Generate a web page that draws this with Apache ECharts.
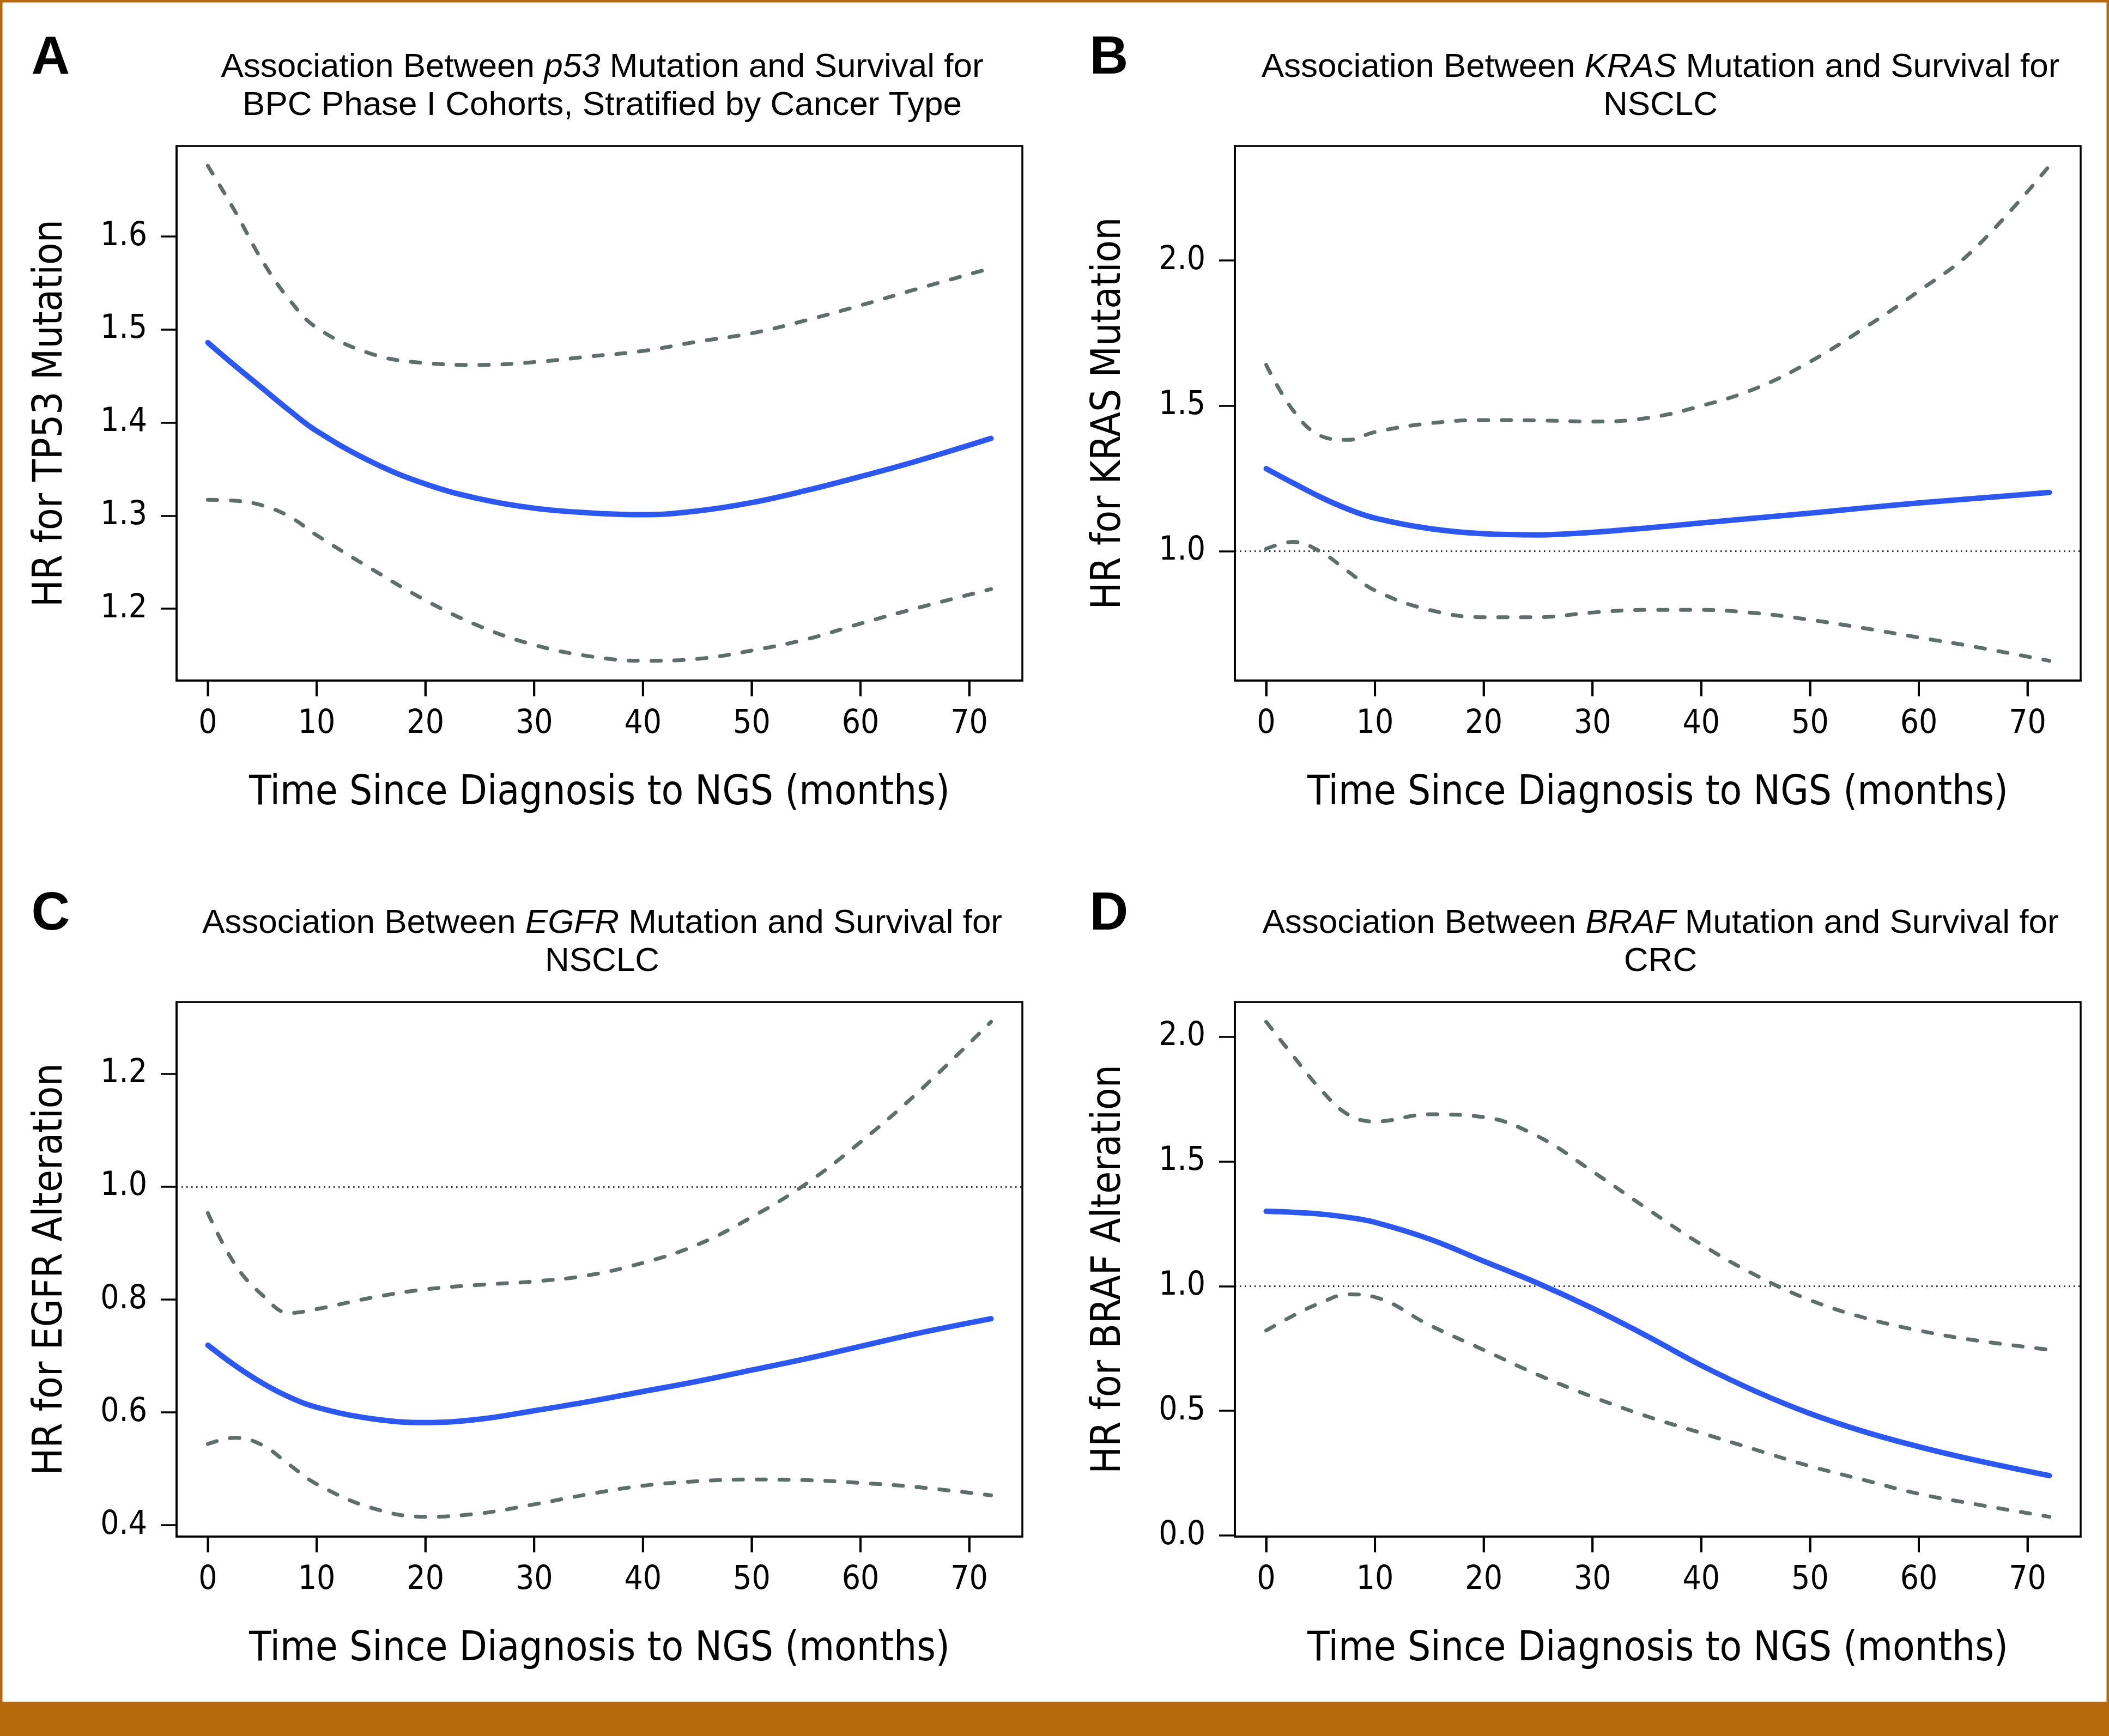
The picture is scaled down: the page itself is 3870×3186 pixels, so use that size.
<!DOCTYPE html>
<html>
<head>
<meta charset="utf-8">
<script src="https://cdn.jsdelivr.net/npm/echarts@6/dist/echarts.min.js"></script>
<style>
html,body{margin:0;padding:0;background:#fff;}
#chart{width:3870px;height:3186px;}
</style>
</head>
<body>
<div id="chart"></div>
<script>
// ---- data ----
const months = [0, 2.5, 5, 7.5, 10, 15, 20, 25, 30, 35, 40, 45, 50, 55, 60, 65, 72];
const xTicks = [0, 10, 20, 30, 40, 50, 60, 70];

const p53Mean  = [1.486, 1.461, 1.437, 1.413, 1.391, 1.358, 1.334, 1.318, 1.308, 1.303, 1.301, 1.305, 1.314, 1.327, 1.342, 1.358, 1.383];
const p53Upper = [1.676, 1.627, 1.574, 1.532, 1.502, 1.474, 1.464, 1.462, 1.465, 1.471, 1.477, 1.487, 1.496, 1.510, 1.526, 1.543, 1.566];
const p53Lower = [1.317, 1.316, 1.311, 1.299, 1.279, 1.243, 1.209, 1.181, 1.161, 1.149, 1.144, 1.146, 1.155, 1.167, 1.184, 1.200, 1.221];
const p53Ticks = [1.2, 1.3, 1.4, 1.5, 1.6];

const krasMean  = [1.284, 1.234, 1.186, 1.145, 1.114, 1.078, 1.060, 1.056, 1.065, 1.080, 1.097, 1.114, 1.131, 1.149, 1.166, 1.181, 1.202];
const krasUpper = [1.641, 1.483, 1.397, 1.383, 1.410, 1.440, 1.451, 1.450, 1.446, 1.458, 1.500, 1.560, 1.652, 1.768, 1.895, 2.036, 2.326];
const krasLower = [1.008, 1.032, 0.998, 0.931, 0.865, 0.798, 0.773, 0.773, 0.789, 0.798, 0.798, 0.787, 0.764, 0.735, 0.703, 0.672, 0.623];
const krasTicks = [1.0, 1.5, 2.0];

const egfrMean  = [0.719, 0.683, 0.652, 0.627, 0.609, 0.589, 0.582, 0.588, 0.603, 0.619, 0.637, 0.655, 0.675, 0.695, 0.717, 0.739, 0.766];
const egfrUpper = [0.953, 0.862, 0.808, 0.776, 0.783, 0.803, 0.818, 0.826, 0.832, 0.843, 0.865, 0.897, 0.946, 1.005, 1.079, 1.162, 1.292];
const egfrLower = [0.544, 0.555, 0.542, 0.507, 0.473, 0.431, 0.415, 0.421, 0.437, 0.455, 0.470, 0.478, 0.481, 0.480, 0.475, 0.468, 0.453];
const egfrTicks = [0.4, 0.6, 0.8, 1.0, 1.2];

const brafMean  = [1.300, 1.296, 1.289, 1.276, 1.256, 1.189, 1.100, 1.011, 0.911, 0.800, 0.682, 0.578, 0.489, 0.416, 0.356, 0.304, 0.240];
const brafUpper = [2.060, 1.922, 1.789, 1.689, 1.660, 1.689, 1.678, 1.600, 1.460, 1.311, 1.167, 1.044, 0.944, 0.873, 0.822, 0.784, 0.745];
const brafLower = [0.822, 0.882, 0.933, 0.967, 0.956, 0.844, 0.744, 0.644, 0.556, 0.478, 0.411, 0.344, 0.278, 0.222, 0.167, 0.127, 0.075];
const brafTicks = [0.0, 0.5, 1.0, 1.5, 2.0];

const panelLetters = ['A', 'B', 'C', 'D'];
const panelTitles = [
  'Association Between {i|p53} Mutation and Survival for\nBPC Phase I Cohorts, Stratified by Cancer Type',
  'Association Between {i|KRAS} Mutation and Survival for\nNSCLC',
  'Association Between {i|EGFR} Mutation and Survival for\nNSCLC',
  'Association Between {i|BRAF} Mutation and Survival for\nCRC'
];
const yTitles = ['HR for TP53 Mutation', 'HR for KRAS Mutation', 'HR for EGFR Alteration', 'HR for BRAF Alteration'];
const xTitle = 'Time Since Diagnosis to NGS (months)';

// ---- layout / style ----
const NARROW = "'DejaVu Sans Condensed', 'Liberation Sans Narrow', sans-serif";
const SANS = "'Liberation Sans', Arial, Helvetica, sans-serif";
const BLUE = '#2C58F0';
const GRAY = '#5F6E6C';
const ORANGE = '#B5690A';
const TICK_LEN = 29;

const boxes = [
  {left: 324, top: 268, width: 1552, height: 981},
  {left: 2266, top: 268, width: 1552, height: 981},
  {left: 324, top: 1839, width: 1552, height: 981},
  {left: 2266, top: 1839, width: 1552, height: 981}
];
const panels = [
  {mean: p53Mean, upper: p53Upper, lower: p53Lower, ticks: p53Ticks, ref: false},
  {mean: krasMean, upper: krasUpper, lower: krasLower, ticks: krasTicks, ref: true},
  {mean: egfrMean, upper: egfrUpper, lower: egfrLower, ticks: egfrTicks, ref: true},
  {mean: brafMean, upper: brafUpper, lower: brafLower, ticks: brafTicks, ref: true}
];

function rRange(vals) {
  const mn = Math.min.apply(null, vals), mx = Math.max.apply(null, vals);
  const e = (mx - mn) * 0.04;
  return [mn - e, mx + e];
}
const xr = rRange(months);
const axisLineStyle = {color: '#000', width: 3.5};

const grid = [], xAxis = [], yAxis = [], series = [], title = [], yMins = [];
panels.forEach((p, k) => {
  const b = boxes[k];
  grid.push({left: b.left, top: b.top, width: b.width, height: b.height, show: true,
    borderColor: '#000', borderWidth: 3.5, backgroundColor: 'transparent'});
  const yr = rRange(p.upper.concat(p.lower, p.mean));
  yMins.push(yr[0]);
  xAxis.push({type: 'value', gridIndex: k, min: xr[0], max: xr[1], position: 'bottom',
    axisLine: {show: true, onZero: false, lineStyle: axisLineStyle},
    axisTick: {show: true, inside: false, length: TICK_LEN, customValues: xTicks, lineStyle: axisLineStyle},
    axisLabel: {show: true, customValues: xTicks, margin: 50, fontSize: 60, fontFamily: NARROW, color: '#000'},
    splitLine: {show: false},
    name: xTitle, nameLocation: 'middle', nameGap: 171,
    nameTextStyle: {fontSize: 74, fontFamily: NARROW, color: '#000'}
  });
  yAxis.push({type: 'value', gridIndex: k, min: yr[0], max: yr[1], position: 'left',
    axisLine: {show: true, onZero: false, lineStyle: axisLineStyle},
    axisTick: {show: true, inside: false, length: TICK_LEN, customValues: p.ticks, lineStyle: axisLineStyle},
    axisLabel: {show: true, customValues: p.ticks, margin: 54, fontSize: 60, fontFamily: NARROW, color: '#000',
      formatter: v => Number(v).toFixed(1)},
    splitLine: {show: false},
    name: yTitles[k], nameLocation: 'middle', nameGap: 193,
    nameTextStyle: {fontSize: 74, fontFamily: NARROW, color: '#000'}
  });
  const mk = arr => months.map((m, i) => [m, arr[i]]);
  const dashed = {color: GRAY, width: 7, type: [17, 25], cap: 'round'};
  const lowerSeries = {type: 'line', xAxisIndex: k, yAxisIndex: k, data: mk(p.lower), showSymbol: false,
    smooth: 0.4, lineStyle: dashed, z: 3};
  if (p.ref) {
    lowerSeries.markLine = {silent: true, symbol: 'none', label: {show: false},
      lineStyle: {color: '#000', width: 2.5, type: [2.5, 6.5]}, data: [{yAxis: 1}], z: 1};
  }
  series.push(lowerSeries);
  series.push({type: 'line', xAxisIndex: k, yAxisIndex: k, data: mk(p.upper), showSymbol: false,
    smooth: 0.4, lineStyle: dashed, z: 3});
  series.push({type: 'line', xAxisIndex: k, yAxisIndex: k, data: mk(p.mean), showSymbol: false,
    smooth: 0.4, lineStyle: {color: BLUE, width: 10, cap: 'round'}, z: 4});

  const cx = b.left + b.width / 2;
  title.push({text: panelTitles[k], left: cx, top: b.top - 184, textAlign: 'center',
    textStyle: {fontSize: 62, fontFamily: SANS, fontWeight: 'normal', color: '#000', lineHeight: 70,
      rich: {i: {fontStyle: 'italic', fontSize: 62, fontFamily: SANS, color: '#000', lineHeight: 70}}}});
  title.push({text: panelLetters[k], left: b.left - 236, top: b.top - 214, textAlign: 'center',
    textStyle: {fontSize: 98, fontFamily: SANS, fontWeight: 'bold', color: '#000'}});
});

const frame = [
  {type: 'rect', silent: true, z: 100, shape: {x: 0, y: 0, width: 3870, height: 3186},
    style: {fill: 'none', stroke: ORANGE, lineWidth: 9}},
  {type: 'rect', silent: true, z: 100, shape: {x: 0, y: 3123, width: 3870, height: 63},
    style: {fill: ORANGE}}
];

const chart = echarts.init(document.getElementById('chart'), null, {renderer: 'canvas', width: 3870, height: 3186});
chart.setOption({
  animation: false,
  backgroundColor: '#fff',
  title: title,
  grid: grid,
  xAxis: xAxis,
  yAxis: yAxis,
  series: series,
  graphic: frame
});

// x-axis tick marks below each box, positioned through each panel's x scale
function tickPixel(k, t) {
  let pt = null;
  try { pt = chart.convertToPixel({xAxisIndex: k, yAxisIndex: k}, [t, yMins[k]]); } catch (e) { pt = null; }
  if (!pt || !isFinite(pt[0]) || !isFinite(pt[1])) {
    const b = boxes[k];
    pt = [b.left + (t - xr[0]) / (xr[1] - xr[0]) * b.width, b.top + b.height];
  }
  return pt;
}
const tickMarks = [];
panels.forEach((p, k) => {
  xTicks.forEach(t => {
    const pt = tickPixel(k, t);
    tickMarks.push({type: 'line', silent: true, z: 100,
      shape: {x1: pt[0], y1: pt[1], x2: pt[0], y2: pt[1] + TICK_LEN},
      style: {stroke: '#000', lineWidth: 4}});
  });
});
chart.setOption({graphic: frame.concat(tickMarks)});
</script>
</body>
</html>
